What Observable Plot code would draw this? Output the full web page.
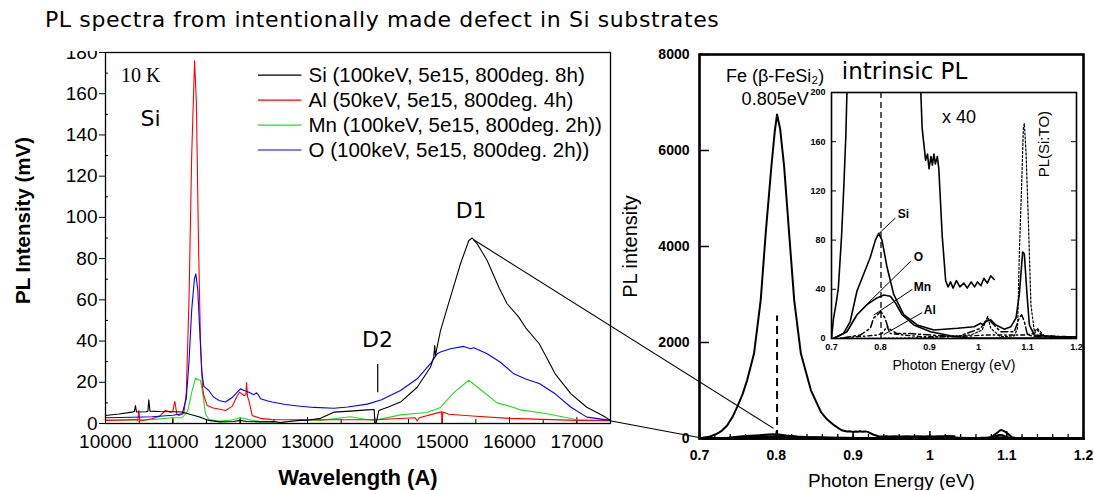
<!DOCTYPE html>
<html><head><meta charset="utf-8">
<script src="https://cdn.jsdelivr.net/npm/d3@7"></script>
<script src="https://cdn.jsdelivr.net/npm/@observablehq/plot@0.6"></script>
<style>
html,body{margin:0;padding:0;background:#fff;}
#wrap{position:relative;width:1094px;height:490px;overflow:hidden;background:#fff;}
#wrap svg{position:absolute;overflow:visible;max-width:none;}
#title{position:absolute;left:0;top:0;width:620px;height:51px;background:#fff;z-index:5;overflow:visible;}
#title span{position:absolute;left:45px;top:7px;font-family:"DejaVu Sans",sans-serif;font-size:22px;letter-spacing:0.6px;white-space:nowrap;color:#000;background:#fff;}
</style>
</head><body>
<div id="wrap"><div id="title"><span>PL spectra from intentionally made defect in Si substrates</span></div></div>
<script>
// ---------------- LEFT PANEL DATA (wavelength in Å, PL intensity in mV) ----------------
const leftXTicks = [10000, 11000, 12000, 13000, 14000, 15000, 16000, 17000];
const leftYTicks = [0, 20, 40, 60, 80, 100, 120, 140, 160, 180];
const legendLabels = ["Si (100keV, 5e15, 800deg. 8h)", "Al (50keV, 5e15, 800deg. 4h)", "Mn (100keV, 5e15, 800deg. 2h))", "O (100keV, 5e15, 800deg. 2h))"];
const legendColors = ["#000000", "#ff0000", "#22dd22", "#0000ff"];

const implSi = [[10000,3.9],[10200,4.6],[10396,5.5],[10430,6],[10445,8.7],[10460,5.6],[10600,5.7],[10630,6],[10643,11.5],[10660,6],[10800,5.8],[11000,5.7],[11138,5.6],[11250,4.5],[11386,3.3],[11535,1.5],[11700,0.8],[11900,1.0],[12000,1.5],[12100,1.0],[12300,0.8],[12500,1.0],[12600,0.5],[12800,1.2],[12896,1.5],[13000,1.6],[13193,2.5],[13391,5.5],[13638,6.0],[13886,6.6],[13990,6.8],[14000,0.3],[14020,0.3],[14059,6.3],[14200,8],[14381,10.4],[14629,17.6],[14826,27.3],[14875,32.2],[14890,37.8],[14900,33],[14975,45.1],[15123,61.3],[15272,77.5],[15396,88.8],[15445,90],[15520,87.2],[15668,79.1],[15850,65.5],[15866,64.5],[15965,58.1],[16138,51.6],[16250,46],[16442,38.7],[16678,24.1],[16913,14.4],[17148,7.9],[17383,3.9],[17500,1.5]];
const implAl = [[10000,1.5],[10300,1.7],[10445,1.9],[10480,1.5],[10495,6.3],[10510,1.2],[10693,2.3],[10800,3.5],[10891,6.3],[10965,5.5],[11000,6],[11029,10.7],[11060,4.5],[11089,3.9],[11163,5],[11200,15],[11240,60],[11280,130],[11323,176],[11350,155],[11380,90],[11410,40],[11440,18],[11460,13.6],[11510,8.7],[11600,7.5],[11683,7],[11782,6.3],[11881,8.3],[11950,13],[11990,15.2],[12055,13.6],[12085,14],[12095,19.9],[12110,13],[12129,11.2],[12178,3.9],[12300,2.5],[12475,1.9],[12700,1.8],[13000,1.8],[13500,1.8],[14000,1.8],[14300,2.3],[14600,2.8],[14629,1.2],[14660,2.8],[14900,4.9],[14990,5.7],[15000,0.8],[15010,5.6],[15100,4.5],[15500,3.5],[16000,2.5],[16500,2.0],[17000,1.5],[17500,1.5]];
const implMn = [[10000,1.5],[10693,1.9],[10990,2.8],[11138,2.8],[11220,6],[11280,15],[11336,22],[11410,20.9],[11445,14.4],[11485,4.7],[11535,1.9],[11683,1.2],[11850,1.5],[12005,2.8],[12178,1.5],[12376,0.7],[12600,0.5],[12896,1.8],[13193,1.5],[13638,3.3],[13886,1.8],[14000,1.5],[14381,4.2],[14776,5.3],[14975,7.8],[15173,15],[15396,21],[15569,16.5],[15817,10],[16064,7.8],[16163,6.6],[16559,4.7],[17004,1.8],[17500,1.2]];
const implO = [[10000,2.8],[10400,3.0],[10693,3.3],[11000,4],[11138,4.7],[11200,12],[11240,30],[11280,55],[11320,70],[11341,72.6],[11370,65],[11400,45],[11430,25],[11460,18],[11535,16],[11600,13],[11683,11.2],[11782,10.4],[11881,12.6],[11950,15],[12005,16.8],[12060,16],[12129,15.2],[12203,13.9],[12238,14.9],[12270,14],[12302,12],[12400,11],[12475,10.4],[12673,9.2],[12896,8.4],[13100,7.8],[13391,7.4],[13600,8],[13886,9.4],[14100,11.5],[14381,16],[14629,21.7],[14826,29],[14925,33.8],[14975,34.7],[15123,36.3],[15322,37.4],[15421,36.3],[15470,36.8],[15668,33.8],[15866,29.7],[16064,24.1],[16250,21.5],[16442,19.4],[16678,14.4],[16913,7.9],[17148,3.1],[17500,1.5]];

// ---------------- RIGHT PANEL DATA (photon energy in eV, PL intensity) ----------------
const rightXTicks = [0.7, 0.8, 0.9, 1, 1.1, 1.2];
const rightYTicks = [0, 2000, 4000, 6000, 8000];
const insetYTicks = [0, 40, 80, 120, 160, 200];
const feSpectrum = [[0.700,0],[0.704,16],[0.710,30],[0.714,41],[0.7205,83],[0.7252,124],[0.7293,165],[0.736,272],[0.743,450],[0.749,654],[0.756,920],[0.762,1212],[0.771,1769],[0.7797,2883],[0.7862,4276],[0.7936,5667],[0.798,6400],[0.801,6750],[0.805,6450],[0.8102,5667],[0.8167,4276],[0.8233,2883],[0.832,1769],[0.8451,1003],[0.8582,550],[0.866,400],[0.8756,272],[0.885,171],[0.892,145],[0.896,150],[0.899,138],[0.903,148],[0.906,141],[0.909,150],[0.912,142],[0.916,148],[0.919,138],[0.926,83],[0.933,47],[0.938,42],[0.943,46],[0.948,41],[0.955,47],[0.962,42],[0.97,45],[0.977,41],[0.985,46],[0.992,42],[0.998,46],[1.005,43],[1.011,49],[1.018,45],[1.025,51],[1.032,48]];
const specSi = [[0.704,0],[0.7245,4.1],[0.7382,13.8],[0.752,38.6],[0.7655,52.3],[0.7792,66.1],[0.7895,79.9],[0.7963,85.4],[0.803,79.9],[0.8134,57.9],[0.827,35.8],[0.8475,19.3],[0.8749,11],[0.909,6.9],[0.957,8.3],[0.991,9.6],[1.0045,12.4],[1.01,11],[1.015,13.8],[1.025,15.2],[1.0355,11],[1.0525,7.6],[1.066,9.6],[1.0765,16.5],[1.0833,35.8],[1.0901,70.2],[1.0935,68.9],[1.099,35.8],[1.1038,11],[1.114,2.8],[1.162,1.4],[1.2,1.4]];
const specO = [[0.704,0],[0.7314,5.5],[0.752,19.3],[0.7724,27.5],[0.7928,33],[0.8065,35.3],[0.8202,34.4],[0.8305,28.9],[0.8441,19.3],[0.868,11],[0.9022,5.5],[0.943,2.2],[0.977,0.6],[1.1,0.4],[1.2,0.4]];
const specMn = [[0.7245,0.6],[0.7587,2.8],[0.7792,8.3],[0.7857,16.5],[0.8007,22],[0.8093,16.5],[0.816,8.3],[0.833,4.1],[0.86,4.1],[0.902,2.8],[0.957,1.4],[1.0045,8.3],[1.018,16.5],[1.025,13.8],[1.045,5.5],[1.073,5.5],[1.083,16.5],[1.088,19.3],[1.0935,13.8],[1.1,2.8],[1.1208,1.4],[1.2,1]];
const specAl = [[0.704,0],[0.752,1.4],[0.793,2.8],[0.803,4.1],[0.8134,9.6],[0.82,4.1],[0.8475,2.8],[0.888,1.4],[0.957,1.4],[1.0114,2.8],[1.0935,2.8],[1.114,4.1],[1.12,7],[1.13,2],[1.2,1.4]];
const specSiTO = [[0.75,0],[0.888,0.6],[0.984,2.8],[1.0074,6.9],[1.0189,17.9],[1.025,8.3],[1.045,1.4],[1.073,2.2],[1.0798,8.3],[1.0833,68.9],[1.088,124],[1.0915,170.8],[1.0935,175],[1.097,151.5],[1.1017,96.4],[1.107,27.5],[1.114,5.5],[1.12,8.3],[1.134,2.2],[1.2,1]];
const feMarker = {energy: 0.801, top: 2550};

// zoom connectors: left panel (Å, mV) -> right panel (eV, intensity)
const zoomFrom = [[15470, 89], [17500, 1.1]];
const zoomTo = [[0.797, 200], [0.7, 10]];

const wrap = document.getElementById("wrap");
const X = d => d[0], Y = d => d[1];
const sans = "Liberation Sans, Arial, sans-serif";
const comic = "DejaVu Sans, sans-serif";

// ================= LEFT PLOT =================
const LM = {left:105, right:10, top:52, bottom:67}, LW = 620, H = 490;
const LFH = H - LM.top - LM.bottom, LFW = LW - LM.left - LM.right;
const legendTop = 169, legendStep = 12.1;
const legendRows = legendLabels.map((t, i) => ({t, c: legendColors[i], y: legendTop - i * legendStep}));
const left = Plot.plot({
  width: LW, height: H,
  marginLeft: LM.left, marginRight: LM.right, marginTop: LM.top, marginBottom: LM.bottom,
  x: {domain: [10000, 17500]},
  y: {domain: [0, 180]},
  style: {fontFamily: sans, fontSize: "19px", color: "#000", background: "transparent", overflow: "visible"},
  marks: [
    Plot.axisX({ticks: leftXTicks, tickSize: 0, tickPadding: 11, tickFormat: d => String(d), label: null, fontSize: 19}),
    Plot.axisY({ticks: leftYTicks, tickSize: 6, tickPadding: 2, tickFormat: d => String(d), label: null, fontSize: 19}),
    Plot.tickX(d3.range(10000, 17501, 500), {stroke: "#000", insetTop: LFH - 4}),
    Plot.tickX(leftXTicks, {stroke: "#000", insetTop: LFH - 6}),
    Plot.tickY(d3.range(10, 181, 20), {stroke: "#000", insetRight: LFW - 3}),
    Plot.line(implMn, {x: X, y: Y, stroke: legendColors[2], strokeWidth: 1.1}),
    Plot.line(implAl, {x: X, y: Y, stroke: legendColors[1], strokeWidth: 1.1}),
    Plot.line(implO, {x: X, y: Y, stroke: legendColors[3], strokeWidth: 1.1}),
    Plot.line(implSi, {x: X, y: Y, stroke: legendColors[0], strokeWidth: 1.1}),
    Plot.frame({stroke: "#000", strokeWidth: 1.3}),
    // legend
    Plot.link(legendRows, {x1: 12264, x2: 12910, y1: d => d.y, y2: d => d.y, stroke: d => d.c, strokeWidth: 1.2}),
    Plot.text(legendRows, {x: 13015, y: d => d.y, text: d => d.t, textAnchor: "start", fontSize: 20.5, fontFamily: sans}),
    // annotations
    Plot.text(["10 K"], {x: 10230, y: 169, text: d => d, textAnchor: "start", fontFamily: "Liberation Serif, Times New Roman, serif", fontSize: 20}),
    Plot.text(["Si"], {x: 10670, y: 148, text: d => d, fontFamily: comic, fontSize: 22}),
    Plot.text(["D1"], {x: 15430, y: 103, text: d => d, fontFamily: comic, fontSize: 22}),
    Plot.text(["D2"], {x: 14040, y: 40.3, text: d => d, fontFamily: comic, fontSize: 22}),
    Plot.ruleX([14043], {y1: 14.9, y2: 28.6, stroke: "#000", strokeWidth: 1.2}),
    // axis titles
    Plot.text(["Wavelength (A)"], {x: 13750, y: 0, dy: 54, text: d => d, fontSize: 22, fontWeight: "bold", fontFamily: sans}),
    Plot.text(["PL Intensity (mV)"], {x: 10000, y: 98.5, dx: -82, rotate: -90, text: d => d, fontSize: 20.5, fontWeight: "bold", fontFamily: sans})
  ]
});
left.style.left = "0px"; left.style.top = "0px";
wrap.appendChild(left);

// ================= RIGHT PLOT =================
const RM = {left:79, right:11, top:54, bottom:52}, RW = 474;
const RFH = H - RM.top - RM.bottom, RFW = RW - RM.left - RM.right;
const right = Plot.plot({
  width: RW, height: H,
  marginLeft: RM.left, marginRight: RM.right, marginTop: RM.top, marginBottom: RM.bottom,
  x: {domain: [0.7, 1.2]},
  y: {domain: [0, 8000]},
  style: {fontFamily: sans, fontSize: "14px", color: "#000", background: "transparent", overflow: "visible"},
  marks: [
    Plot.axisX({ticks: rightXTicks, tickSize: 0, tickPadding: 12, tickFormat: d => String(d), label: null, fontSize: 14, fontWeight: "bold"}),
    Plot.axisY({ticks: rightYTicks, tickSize: 0, tickPadding: 10, tickFormat: d => String(d), label: null, fontSize: 14, fontWeight: "bold"}),
    Plot.tickX(d3.range(0, 26).map(i => 0.7 + i * 0.02), {stroke: "#000", strokeWidth: 1.3, insetTop: RFH - 4}),
    Plot.tickX(rightXTicks, {stroke: "#000", strokeWidth: 1.5, insetTop: RFH - 7}),
    Plot.tickY(rightYTicks, {stroke: "#000", strokeWidth: 1.5, insetRight: RFW - 10}),
    Plot.line(specSiTO, {x: X, y: Y, stroke: "#000", strokeWidth: 2}),
    Plot.line(specAl, {x: X, y: Y, stroke: "#000", strokeWidth: 2.4}),
    Plot.line(specMn, {x: X, y: Y, stroke: "#000", strokeWidth: 2.4}),
    Plot.line(specO, {x: X, y: Y, stroke: "#000", strokeWidth: 2.4}),
    Plot.line(specSi, {x: X, y: Y, stroke: "#000", strokeWidth: 2.4}),
    Plot.line(feSpectrum, {x: X, y: Y, stroke: "#000", strokeWidth: 2}),
    Plot.ruleX([feMarker.energy], {y1: 0, y2: feMarker.top, stroke: "#000", strokeWidth: 2, strokeDasharray: "8,5"}),
    Plot.frame({stroke: "#000", strokeWidth: 2.6}),
    Plot.text(["Fe (β-FeSi₂)"], {x: 0.7985, y: 7550, text: d => d, fontSize: 18, fontFamily: sans}),
    Plot.text(["0.805eV"], {x: 0.7985, y: 7060, text: d => d, fontSize: 18, fontFamily: sans}),
    Plot.text(["intrinsic PL"], {x: 0.967, y: 7640, text: d => d, fontSize: 23, fontFamily: comic}),
    Plot.text(["Photon Energy (eV)"], {x: 0.95, y: 0, dy: 42, text: d => d, fontSize: 19, fontFamily: sans}),
    Plot.text(["PL intensity"], {x: 0.7, y: 4000, dx: -69, rotate: -90, text: d => d, fontSize: 20, fontFamily: sans})
  ]
});
right.style.left = "620px"; right.style.top = "0px";
wrap.appendChild(right);

// ================= INSET (x 40) =================
const IM = {left:41, right:14, top:12, bottom:32}, IW = 300, IH = 290;
const IFW = IW - IM.left - IM.right;
const inset = Plot.plot({
  width: IW, height: IH,
  marginLeft: IM.left, marginRight: IM.right, marginTop: IM.top, marginBottom: IM.bottom,
  x: {domain: [0.7, 1.2]},
  y: {domain: [0, 200]},
  style: {fontFamily: sans, fontSize: "9px", color: "#000", background: "transparent", overflow: "visible"},
  marks: [
    Plot.axisX({ticks: rightXTicks, tickSize: 0, tickPadding: 5, tickFormat: d => String(d), label: null, fontSize: 9, fontWeight: "bold"}),
    Plot.axisY({ticks: insetYTicks, tickSize: 0, tickPadding: 6, tickFormat: d => String(d), label: null, fontSize: 9, fontWeight: "bold"}),
    Plot.tickY(insetYTicks, {stroke: "#000", insetRight: IFW - 5}),
    Plot.tickY(insetYTicks, {stroke: "#000", insetLeft: IFW - 5}),
    Plot.line(specSiTO, {x: X, y: Y, stroke: "#000", strokeWidth: 1.2, strokeDasharray: "2,2", clip: true}),
    Plot.line(specAl, {x: X, y: Y, stroke: "#000", strokeWidth: 1.4, strokeDasharray: "4,3,1.5,3", clip: true}),
    Plot.line(specMn, {x: X, y: Y, stroke: "#000", strokeWidth: 1.5, strokeDasharray: "7,3,2,3", clip: true}),
    Plot.line(specO, {x: X, y: Y, stroke: "#000", strokeWidth: 1.6, clip: true}),
    Plot.line(specSi, {x: X, y: Y, stroke: "#000", strokeWidth: 1.6, clip: true}),
    Plot.line(feSpectrum, {x: X, y: Y, stroke: "#000", strokeWidth: 1.6, clip: true}),
    Plot.ruleX([feMarker.energy], {y1: 0, y2: 200, stroke: "#000", strokeWidth: 1.3, strokeDasharray: "6,4"}),
    Plot.frame({stroke: "#000", strokeWidth: 1.6}),
    // curve labels and leader lines
    Plot.text(["Si"], {x: 0.835, y: 101, text: d => d, textAnchor: "start", fontSize: 12, fontWeight: "bold", fontFamily: sans}),
    Plot.text(["O"], {x: 0.868, y: 66, text: d => d, textAnchor: "start", fontSize: 12, fontWeight: "bold", fontFamily: sans}),
    Plot.text(["Mn"], {x: 0.868, y: 42, text: d => d, textAnchor: "start", fontSize: 12, fontWeight: "bold", fontFamily: sans}),
    Plot.text(["Al"], {x: 0.8885, y: 23, text: d => d, textAnchor: "start", fontSize: 12, fontWeight: "bold", fontFamily: sans}),
    Plot.link([0], {x1: 0.8305, y1: 98, x2: 0.797, y2: 85.4, stroke: "#000", strokeWidth: 1}),
    Plot.link([0], {x1: 0.862, y1: 63, x2: 0.770, y2: 27, stroke: "#000", strokeWidth: 1}),
    Plot.link([0], {x1: 0.865, y1: 40, x2: 0.786, y2: 19, stroke: "#000", strokeWidth: 1}),
    Plot.link([0], {x1: 0.885, y1: 21, x2: 0.806, y2: 3, stroke: "#000", strokeWidth: 1}),
    Plot.text(["x 40"], {x: 0.96, y: 180, text: d => d, fontSize: 18, fontFamily: sans}),
    Plot.text(["PL(Si:TO)"], {x: 1.134, y: 158, rotate: -90, text: d => d, fontSize: 15, fontFamily: sans}),
    Plot.text(["Photon Energy (eV)"], {x: 0.95, y: 0, dy: 27, text: d => d, fontSize: 14, fontFamily: sans})
  ]
});
inset.style.left = "790px"; inset.style.top = "80px";
wrap.appendChild(inset);

// ================= ZOOM CONNECTORS (positions from the two plots' scales) =================
const ov = d3.select(wrap).append("svg")
  .attr("width", 1094).attr("height", 490)
  .style("left", "0px").style("top", "0px").style("pointer-events", "none");
const lxs = left.scale("x"), lys = left.scale("y"), rxs = right.scale("x"), rys = right.scale("y");
zoomFrom.forEach((p, i) => {
  ov.append("line")
    .attr("x1", lxs.apply(p[0])).attr("y1", lys.apply(p[1]))
    .attr("x2", 620 + rxs.apply(zoomTo[i][0])).attr("y2", rys.apply(zoomTo[i][1]))
    .attr("stroke", "#000").attr("stroke-width", 1.1);
});
</script>
</body></html>
